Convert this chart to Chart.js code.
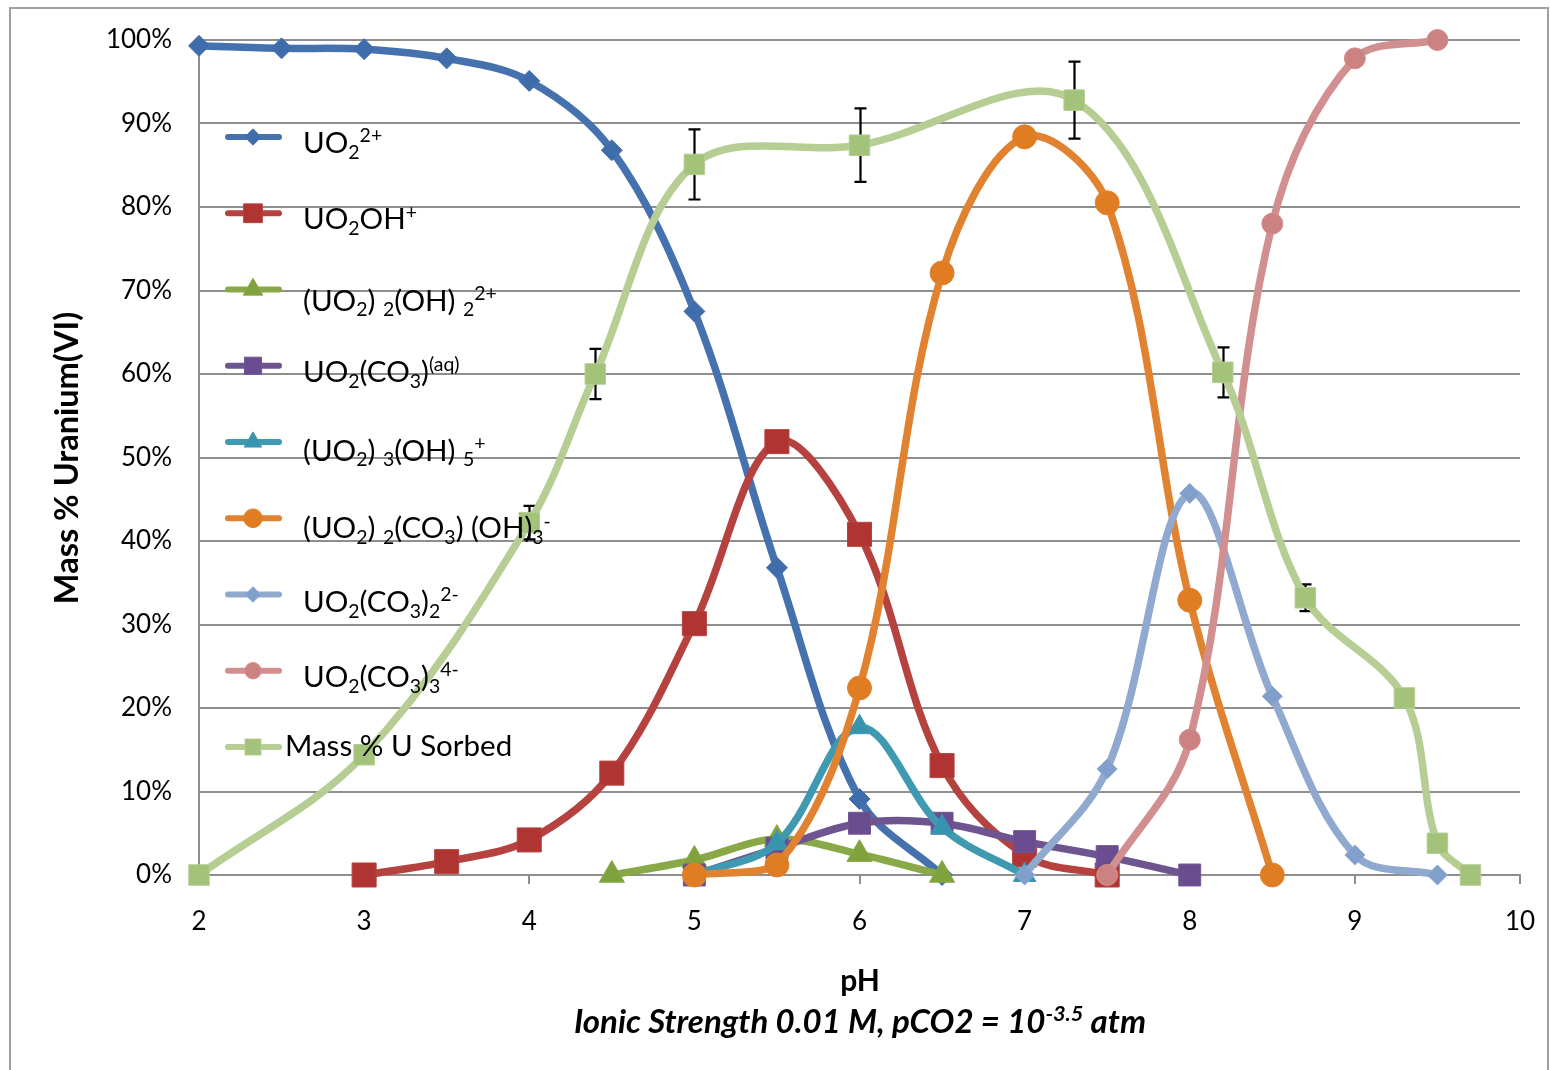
<!DOCTYPE html>
<html><head><meta charset="utf-8">
<script src="https://cdn.jsdelivr.net/npm/chart.js@4.4.1/dist/chart.umd.min.js"></script>
<style>html,body{margin:0;padding:0;background:#fff}canvas{display:block}</style>
</head><body>
<canvas id="c" width="1550" height="1070"></canvas>
<script>
// ---- data ----
const uo2_pH = [2,2.5,3,3.5,4,4.5,5,5.5,6,6.5];
const uo2_val = [99.3,99.0,98.9,97.8,95.1,86.8,67.5,36.8,9.1,0];
const uo2oh_pH = [3,3.5,4,4.5,5,5.5,6,6.5,7,7.5];
const uo2oh_val = [0,1.6,4.2,12.2,30.1,51.9,40.8,13.1,2.4,0];
const u2oh2_pH = [4.5,5,5.5,6,6.5];
const u2oh2_val = [0,1.8,4.3,2.5,0];
const uo2co3_pH = [5,5.5,6,6.5,7,7.5,8];
const uo2co3_val = [0,3.2,6.2,6.2,4.0,2.2,0];
const u3oh5_pH = [5,5.5,6,6.5,7];
const u3oh5_val = [0,3.8,17.7,5.7,0];
const u2co3oh3_pH = [5,5.5,6,6.5,7,7.5,8,8.5];
const u2co3oh3_val = [0,1.2,22.4,72.1,88.4,80.5,32.9,0];
const uo2co32_pH = [7,7.5,8,8.5,9,9.5];
const uo2co32_val = [0,12.7,45.7,21.4,2.4,0];
const uo2co33_pH = [7.5,8,8.5,9,9.5];
const uo2co33_val = [0,16.2,78.0,97.8,100];
const sorbed_pH = [2,3,4,4.4,5,6,7.3,8.2,8.7,9.3,9.5,9.7];
const sorbed_val = [0,14.4,42.2,60.0,85.1,87.4,92.8,60.2,33.2,21.2,3.8,0];
const sorbed_err = [0,0,2,3,4.2,4.4,4.6,3,1.6,0,0,0];

const xMin = 2, xMax = 10, xStep = 1;
const yMin = 0, yMax = 100, yStep = 10;

const seriesNames = ['UO₂²⁺','UO₂OH⁺','(UO₂)₂(OH)₂²⁺','UO₂(CO₃)(aq)','(UO₂)₃(OH)₅⁺','(UO₂)₂(CO₃)(OH)₃⁻','UO₂(CO₃)₂²⁻','UO₂(CO₃)₃⁴⁻','Mass % U Sorbed'];
// rich legend labels: [text, style] where style '' | 'b' (sub) | 'p' (sup)
const legendLabels = [
  [['UO',''],['2','b'],['2+','p']],
  [['UO',''],['2','b'],['OH',''],['+','p']],
  [['(UO',''],['2','b'],[') ',''],['2','b'],['(OH) ',''],['2','b'],['2+','p']],
  [['UO',''],['2','b'],['(CO',''],['3','b'],[')',''],['(aq)','p']],
  [['(UO',''],['2','b'],[') ',''],['3','b'],['(OH) ',''],['5','b'],['+','p']],
  [['(UO',''],['2','b'],[') ',''],['2','b'],['(CO',''],['3','b'],[') (OH)',''],['3','b'],['-','p']],
  [['UO',''],['2','b'],['(CO',''],['3','b'],[')',''],['2','b'],['2-','p']],
  [['UO',''],['2','b'],['(CO',''],['3','b'],[')',''],['3','b'],['4-','p']],
  [['Mass % U Sorbed','']]
];
const xTitle = 'pH';
const subTitleParts = [['Ionic Strength 0.01 M, pCO2 = 10',''],['-3.5','p'],[' atm','']];
const yTitle = 'Mass % Uranium(VI)';

// ---- styles ----
const styles = [
  {c:'#4572AE', m:'#3F6CAA', ps:'rectRot', r:10.5},
  {c:'#B5423F', m:'#B03532', ps:'rect', r:17},
  {c:'#89A948', m:'#7FA23C', ps:'triangle', r:14.5},
  {c:'#6F5590', m:'#6A4C91', ps:'rect', r:15.5},
  {c:'#3F99B1', m:'#3794AE', ps:'triangle', r:13},
  {c:'#E0822F', m:'#E07C22', ps:'circle', r:12},
  {c:'#8FA9CF', m:'#819FCB', ps:'rectRot', r:10},
  {c:'#D28F8F', m:'#CD8282', ps:'circle', r:10.5},
  {c:'#B6CD94', m:'#A3C27A', ps:'rect', r:14.5}
];
const legendBaseOffsets = [16,16,21,16,18.5,20,17.5,16,8.5];
const xs = [uo2_pH,uo2oh_pH,u2oh2_pH,uo2co3_pH,u3oh5_pH,u2co3oh3_pH,uo2co32_pH,uo2co33_pH,sorbed_pH];
const ys = [uo2_val,uo2oh_val,u2oh2_val,uo2co3_val,u3oh5_val,u2co3oh3_val,uo2co32_val,uo2co33_val,sorbed_val];
const N = xs.length;
const FONT = 'Lato';
const gridCol = '#8E8E8E';

const datasets = xs.map((xa,i)=>({
  label: seriesNames[i],
  data: xa.map((x,j)=>({x:x, y:ys[i][j]})),
  borderColor: styles[i].c,
  backgroundColor: styles[i].m,
  borderWidth: 7.5,
  tension: 0.35,
  pointStyle: styles[i].ps,
  pointRadius: styles[i].r,
  pointHoverRadius: styles[i].r,
  pointBackgroundColor: styles[i].m,
  pointBorderColor: styles[i].c,
  pointBorderWidth: 1,
  clip: false,
  order: N - 1 - i
}));

function drawRich(ctx, x, y, parts, size, weight, style, align) {
  const fnt = (fs)=> `${style||''} ${weight||''} ${fs}px ${FONT}`;
  let total = 0;
  for (const p of parts) {
    const fs = p[1] ? size*0.66 : size;
    ctx.font = fnt(fs);
    total += ctx.measureText(p[0]).width;
  }
  let cx = align === 'center' ? x - total/2 : x;
  ctx.textAlign = 'left';
  ctx.textBaseline = 'alphabetic';
  for (const p of parts) {
    let fs = size, dy = 0;
    if (p[1] === 'b') { fs = size*0.66; dy = size*0.2; }
    if (p[1] === 'p') { fs = size*0.66; dy = -size*0.36; }
    ctx.font = fnt(fs);
    ctx.fillText(p[0], cx, y + dy);
    cx += ctx.measureText(p[0]).width;
  }
}

function drawMarker(ctx, ps, r, x, y, fill, stroke) {
  ctx.beginPath();
  if (ps === 'circle') ctx.arc(x, y, r, 0, Math.PI*2);
  else if (ps === 'rect') { const s = r*Math.SQRT1_2; ctx.rect(x-s, y-s, 2*s, 2*s); }
  else if (ps === 'rectRot') { ctx.moveTo(x, y-r); ctx.lineTo(x+r, y); ctx.lineTo(x, y+r); ctx.lineTo(x-r, y); ctx.closePath(); }
  else if (ps === 'triangle') { const h = r*Math.sin(Math.PI/3); ctx.moveTo(x, y-r); ctx.lineTo(x+h, y+r/2); ctx.lineTo(x-h, y+r/2); ctx.closePath(); }
  ctx.fillStyle = fill; ctx.fill();
  ctx.lineWidth = 1; ctx.strokeStyle = stroke; ctx.stroke();
}

const decor = {
  id: 'decor',
  beforeDraw(chart) {
    const ctx = chart.ctx;
    ctx.save();
    ctx.fillStyle = '#fff';
    ctx.fillRect(0, 0, chart.width, chart.height);
    ctx.strokeStyle = '#A0A0A0';
    ctx.lineWidth = 2;
    ctx.beginPath();
    ctx.moveTo(10, 1075); ctx.lineTo(10, 8); ctx.lineTo(1548, 8); ctx.lineTo(1548, 1075);
    ctx.stroke();
    ctx.restore();
  },
  beforeDatasetDraw(chart, args) {
    if (args.index !== N - 1) return;
    const ctx = chart.ctx, xs_ = chart.scales.x, ys_ = chart.scales.y;
    ctx.save();
    ctx.strokeStyle = '#000';
    ctx.lineWidth = 2.2;
    sorbed_pH.forEach((x, j) => {
      const e = sorbed_err[j];
      if (!e) return;
      const px = Math.round(xs_.getPixelForValue(x)) + 0.5;
      const y1 = ys_.getPixelForValue(sorbed_val[j] + e);
      const y2 = ys_.getPixelForValue(sorbed_val[j] - e);
      ctx.beginPath();
      ctx.moveTo(px, y1); ctx.lineTo(px, y2);
      ctx.moveTo(px-6, y1); ctx.lineTo(px+6, y1);
      ctx.moveTo(px-6, y2); ctx.lineTo(px+6, y2);
      ctx.stroke();
    });
    ctx.restore();
  },
  afterDraw(chart) {
    const ctx = chart.ctx;
    ctx.save();
    ctx.fillStyle = '#000';
    // legend
    const top = 137, gap = 76.25;
    legendLabels.forEach((parts, i) => {
      const y = top + i*gap;
      const st = styles[i];
      ctx.strokeStyle = st.c; ctx.lineWidth = 6; ctx.lineCap = 'round';
      ctx.beginPath(); ctx.moveTo(228, y); ctx.lineTo(279, y); ctx.stroke();
      ctx.lineCap = 'butt';
      drawMarker(ctx, st.ps, st.r*0.78, 253, y, st.m, st.c);
      ctx.fillStyle = '#000';
      drawRich(ctx, i === N-1 ? 285 : 303, y + legendBaseOffsets[i], parts, 29.5, '', '', 'left');
    });
    // axis titles
    ctx.fillStyle = '#000';
    drawRich(ctx, 860, 991, [[xTitle,'']], 30, 'bold', '', 'center');
    drawRich(ctx, 860, 1033, subTitleParts, 33, 'bold', 'italic', 'center');
    ctx.translate(78, 458);
    ctx.rotate(-Math.PI/2);
    drawRich(ctx, 0, 0, [[yTitle,'']], 32.5, 'bold', '', 'center');
    ctx.restore();
  }
};

new Chart(document.getElementById('c'), {
  type: 'line',
  data: { datasets },
  options: {
    responsive: false,
    animation: false,
    devicePixelRatio: 1,
    layout: { padding: { left: 0, right: 30, top: 40, bottom: 0 } },
    plugins: { legend: { display: false }, tooltip: { enabled: false } },
    scales: {
      x: {
        type: 'linear', min: xMin, max: xMax,
        ticks: { stepSize: xStep, color: '#000', font: { family: FONT, size: 26 }, padding: 22, maxRotation: 0 },
        grid: { drawOnChartArea: false, drawTicks: true, tickLength: 9, color: gridCol, lineWidth: 2 },
        border: { color: gridCol, width: 2 },
        afterFit(s) { s.height = 195; s.paddingLeft = 0; s.paddingRight = 0; }
      },
      y: {
        min: yMin, max: yMax,
        ticks: { stepSize: yStep, color: '#000', font: { family: FONT, size: 26 }, padding: 27, callback: v => v + '%' },
        grid: { color: gridCol, lineWidth: 2, drawTicks: false },
        border: { color: gridCol, width: 2 },
        afterFit(s) { s.width = 199; s.paddingTop = 0; s.paddingBottom = 0; }
      }
    }
  },
  plugins: [decor]
});
</script>
</body></html>
